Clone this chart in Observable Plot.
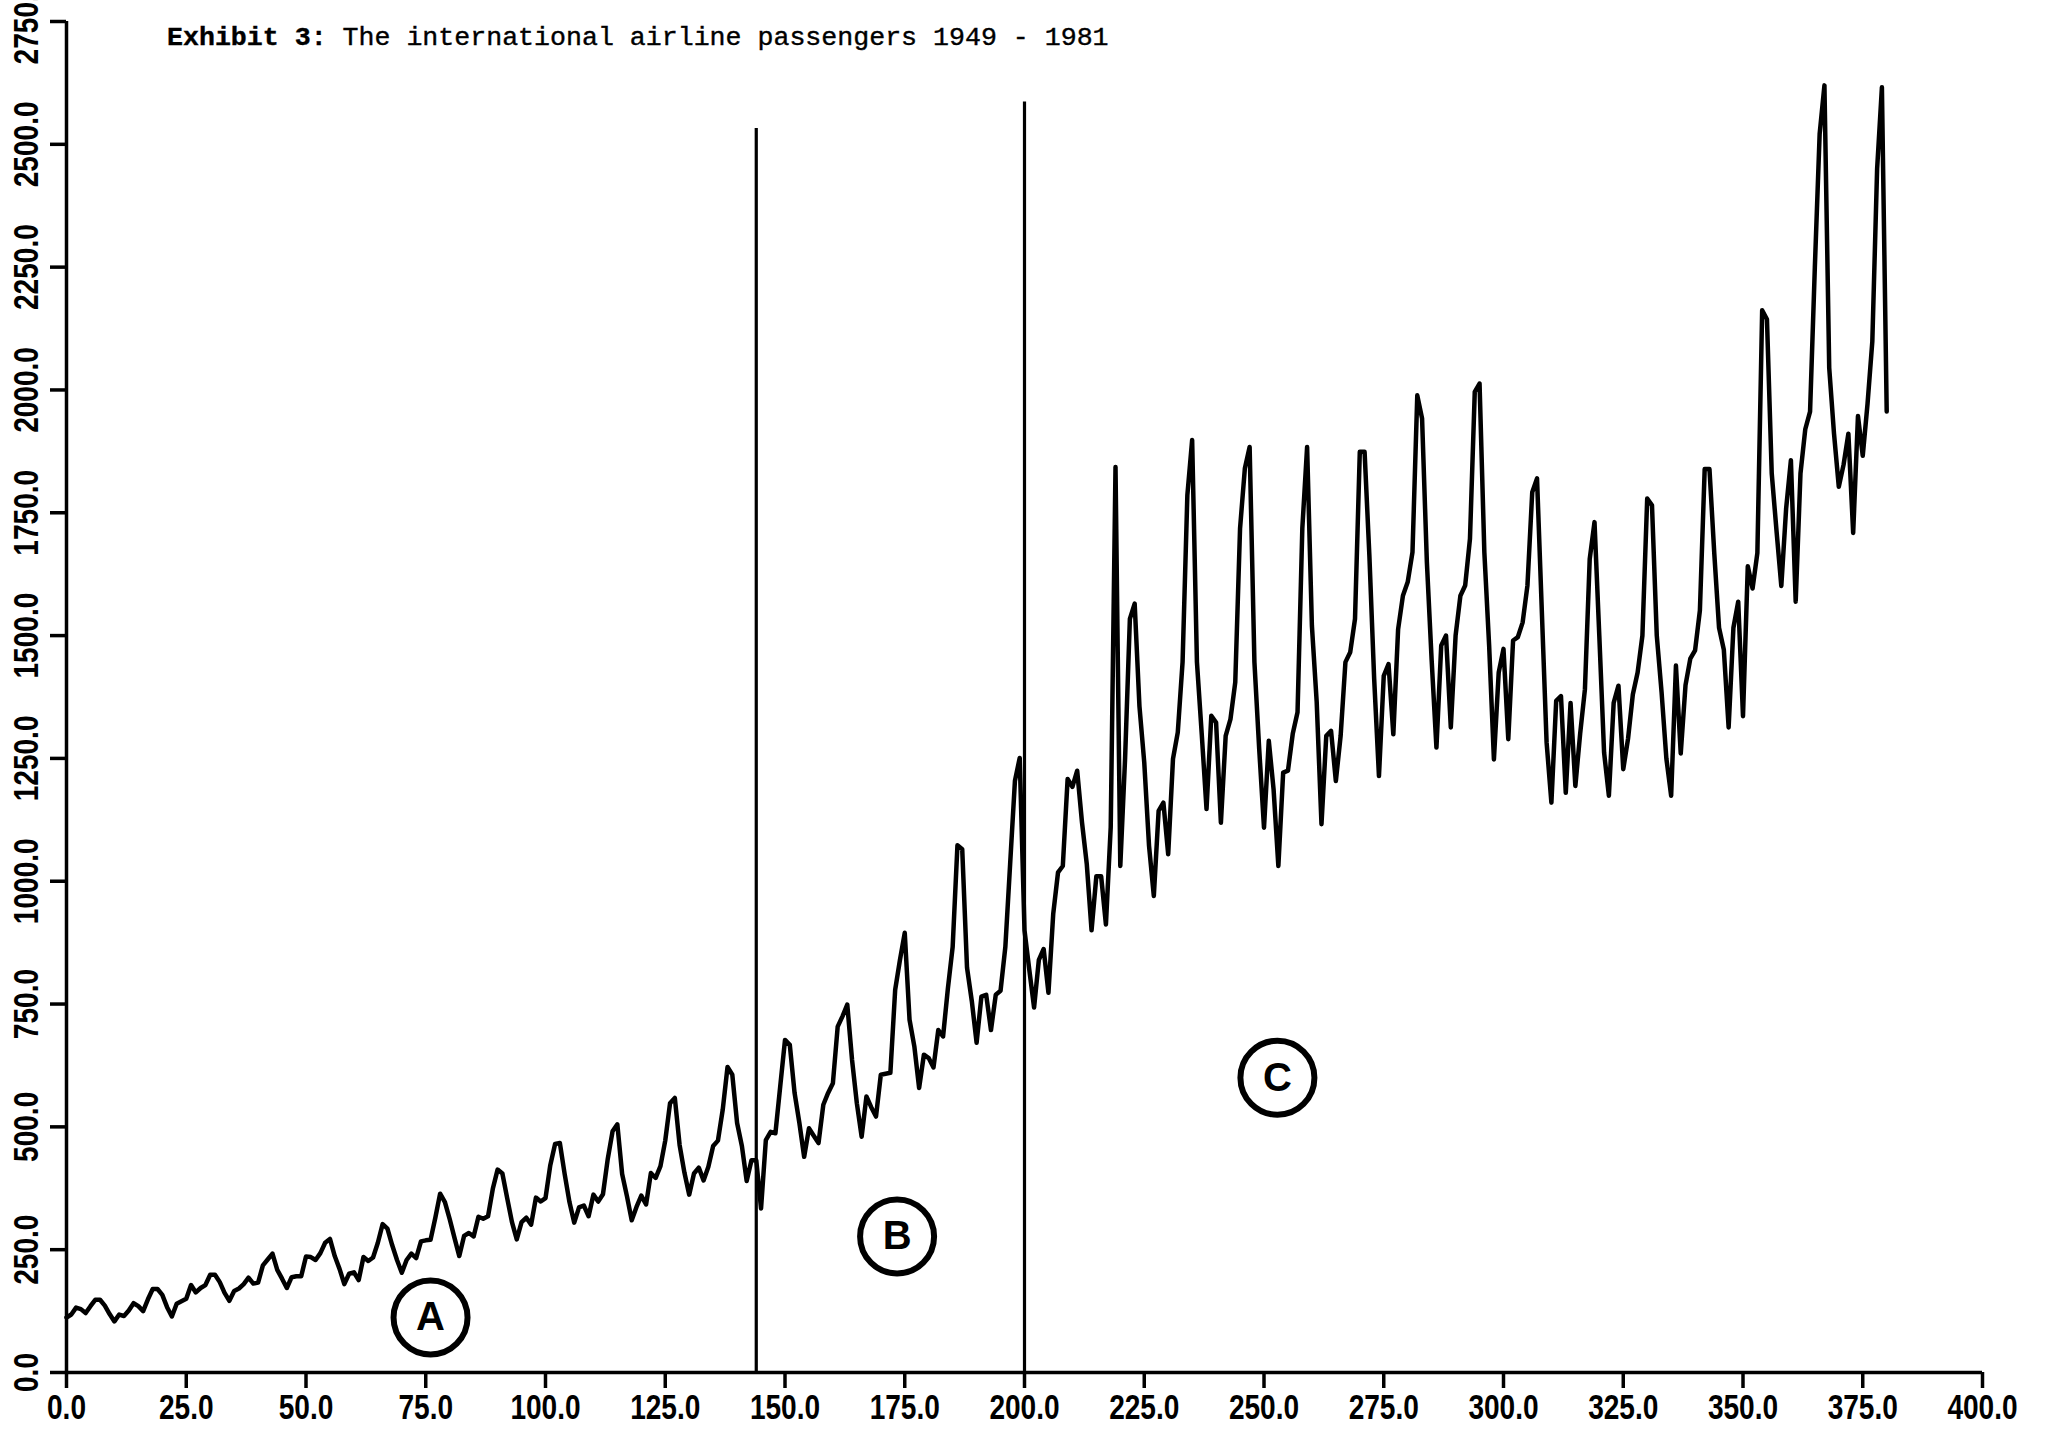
<!DOCTYPE html>
<html><head><meta charset="utf-8">
<script src="https://cdn.jsdelivr.net/npm/d3@7"></script>
<script src="https://cdn.jsdelivr.net/npm/@observablehq/plot@0.6"></script>
<style>
body{margin:0;background:#fff;}
#wrap{position:relative;width:2049px;height:1430px;overflow:hidden;background:#fff;}
#title{position:absolute;left:167px;top:25px;font-family:"Liberation Mono","DejaVu Sans Mono",monospace;font-size:26.6px;line-height:26px;white-space:pre;color:#000;-webkit-text-stroke:0.4px #000;}
</style></head><body>
<div id="wrap"><div id="chart"></div><div id="title"><b>Exhibit 3:</b> The international airline passengers 1949 - 1981</div></div>
<script>
// Monthly passengers, index 0 = Jan 1949
const passengers1949to1960 = [
112,118,132,129,121,135,148,148,136,119,104,118,
115,126,141,135,125,149,170,170,158,133,114,140,
145,150,178,163,172,178,199,199,184,162,146,166,
171,180,193,181,183,218,230,242,209,191,172,194,
196,196,236,235,229,243,264,272,237,211,180,201,
204,188,235,227,234,264,302,293,259,229,203,229,
242,233,267,269,270,315,364,347,312,274,237,278,
284,277,317,313,318,374,413,405,355,306,271,306,
315,301,356,348,355,422,465,467,404,347,305,336,
340,318,362,348,363,435,491,505,404,359,310,337,
360,342,406,396,420,472,548,559,463,407,362,405,
417,391,419,461,472,535,622,606,508,461,390,432];
const passengers1961to1980 = [
432,334,473,490,487,582,677,667,569,508,439,497,
482,467,545,569,589,704,725,749,636,548,480,562,
540,521,606,608,610,779,840,895,718,664,579,647,
640,621,697,684,781,866,1073,1065,824,756,671,765,
769,697,769,777,866,1035,1204,1251,900,820,743,840,
862,773,934,1018,1031,1208,1192,1225,1120,1035,900,1010,
1010,912,1110,1843,1031,1250,1534,1565,1356,1242,1072,970,
1143,1160,1055,1249,1303,1446,1786,1898,1446,1300,1147,1337,
1323,1119,1296,1330,1405,1718,1840,1884,1446,1269,1109,1286,
1187,1031,1221,1225,1300,1344,1718,1884,1520,1365,1116,1296,
1306,1204,1296,1446,1466,1534,1874,1874,1663,1412,1214,1418,
1442,1299,1513,1581,1609,1670,1989,1942,1650,1450,1272,1480,
1500,1313,1500,1581,1602,1697,1996,2013,1670,1480,1248,1425,
1473,1289,1490,1497,1527,1602,1792,1820,1550,1282,1160,1367,
1377,1180,1363,1194,1300,1391,1656,1731,1500,1262,1174,1363,
1398,1228,1290,1380,1425,1500,1779,1765,1500,1385,1250,1174,
1439,1260,1399,1453,1470,1551,1839,1839,1668,1516,1471,1313,
1516,1569,1336,1641,1596,1668,2162,2144,1830,1713,1601,1758,
1857,1569,1830,1920,1956,2250,2521,2620,2045,1911,1803,1848,
1911,1709,1947,1866,1972,2099,2450,2616,1956];

const xTicks = [0,25,50,75,100,125,150,175,200,225,250,275,300,325,350,375,400];
const yTicks = [0,250,500,750,1000,1250,1500,1750,2000,2250,2500,2750];

const periodBreaks = [144, 200];
const periodBreakTops = [2532, 2586];

const regionLabels = ["A", "B", "C"];
const regionX = [76, 173.4, 252.8];
const regionY = [112, 277, 600];

const values = passengers1949to1960.concat(passengers1961to1980);
const series = values.map((v, i) => ({t: i, v}));
const breaks = periodBreaks.map((x, i) => ({x, top: periodBreakTops[i]}));
const regions = regionLabels.map((s, i) => ({s, x: regionX[i], y: regionY[i]}));

const tickFont = "'Liberation Sans',Arial,sans-serif";

const chart = Plot.plot({
  width: 2049, height: 1430,
  marginLeft: 66, marginRight: 67, marginTop: 21, marginBottom: 58,
  style: {background: "white", color: "black"},
  x: {domain: [0, 400]},
  y: {domain: [0, 2750]},
  marks: [
    Plot.ruleY([0], {x1: 0, x2: 400, stroke: "black", strokeWidth: 3.5}),
    Plot.ruleX([0], {y1: 0, y2: 2750, stroke: "black", strokeWidth: 3.5}),
    Plot.axisX(xTicks, {tickSize: 16, tickPadding: 5, tickFormat: d => d.toFixed(1),
      fontSize: 36, fontWeight: "bold", fontFamily: tickFont, stroke: "black", strokeWidth: 3.5,
      className: "condensed"}),
    Plot.axisY(yTicks, {tickSize: 16, tickFormat: () => "", stroke: "black", strokeWidth: 3.5}),
    Plot.text(yTicks, {y: d => d, text: d => d.toFixed(1), frameAnchor: "left", dx: -40,
      rotate: -90, textAnchor: "middle", lineAnchor: "middle",
      fontSize: 36, fontWeight: "bold", fontFamily: tickFont, fill: "black",
      className: "condensed"}),
    Plot.ruleX(breaks, {x: "x", y1: 0, y2: "top", stroke: "black", strokeWidth: 3.2}),
    Plot.line(series, {x: "t", y: "v", stroke: "black", strokeWidth: 4.5, strokeLinejoin: "round"}),
    Plot.dot(regions, {x: "x", y: "y", r: 37, stroke: "black", strokeWidth: 6, fill: "white"}),
    Plot.text(regions, {x: "x", y: "y", text: "s", fontSize: 40, fontWeight: "bold",
      fontFamily: "'Liberation Sans',Arial,sans-serif", fill: "black", lineAnchor: "middle"})
  ]
});
// condense the tick labels horizontally, like the narrow typeface of the original
chart.querySelectorAll("g.condensed text").forEach(t => {
  const tr = t.getAttribute("transform") || "";
  t.setAttribute("transform", tr + " scale(0.78,1)");
});
document.getElementById("chart").appendChild(chart);
</script>
</body></html>
